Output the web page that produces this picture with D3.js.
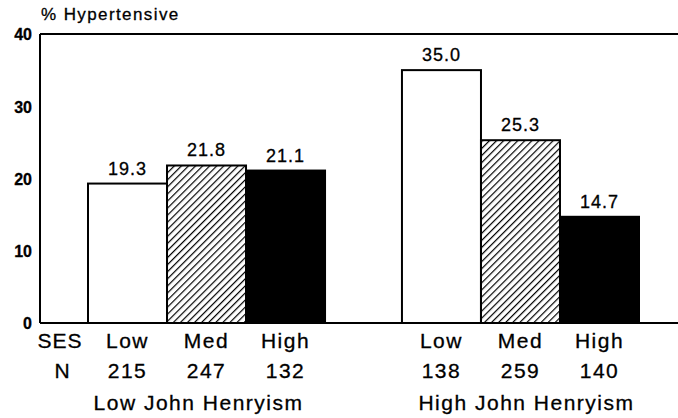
<!DOCTYPE html>
<html>
<head>
<meta charset="utf-8">
<script src="https://cdn.jsdelivr.net/npm/d3@7"></script>
<style>
  body { margin: 0; background: #fff; }
  text { font-family: "Liberation Sans", Arial, Helvetica, sans-serif; fill: #000; stroke: #000; stroke-width: 0.3px; }
</style>
</head>
<body>
<div id="chart"></div>
<script>
// data
var groups = ["Low John Henryism", "High John Henryism"];
var ses = ["Low", "Med", "High"];
var lowJH = [19.3, 21.8, 21.1];
var highJH = [35.0, 25.3, 14.7];
var lowN = [215, 247, 132];
var highN = [138, 259, 140];
var yTicks = [0, 10, 20, 30, 40];

var width = 678,
    height = 418;

var svg = d3.select("#chart")
  .append("svg")
  .attr("width", width)
  .attr("height", height);

// hatch pattern for the medium SES bars
var defs = svg.append("defs");
defs.append("pattern")
  .attr("id", "hatch")
  .attr("patternUnits", "userSpaceOnUse")
  .attr("width", 5)
  .attr("height", 5)
  .attr("patternTransform", "rotate(45)")
  .append("line")
  .attr("x1", 0).attr("y1", 0)
  .attr("x2", 0).attr("y2", 5)
  .attr("stroke", "#000")
  .attr("stroke-width", 2.4);

var fills = ["#fff", "url(#hatch)", "#000"];

// build rows from the arrays
var rows = [];
groups.forEach(function(g, gi) {
  var vals = gi == 0 ? lowJH : highJH;
  var ns = gi == 0 ? lowN : highN;
  ses.forEach(function(s, si) {
    rows.push({ group: g, ses: s, value: vals[si], n: ns[si], i: si });
  });
});

// scales
var y = d3.scaleLinear().domain([0, 40]).range([323, 34]);
var x0 = d3.scaleBand().domain(groups).range([88, 639]).paddingInner(0.245).paddingOuter(0);
var x1 = d3.scaleBand().domain(ses).range([0, x0.bandwidth()]).padding(0);

// y axis, labels only
var yAxis = svg.append("g")
  .attr("transform", "translate(40,0)")
  .call(d3.axisLeft(y).tickValues(yTicks).tickSize(0).tickPadding(8));
yAxis.select(".domain").remove();
yAxis.selectAll("text")
  .style("font-family", "'Liberation Sans', Arial, sans-serif")
  .style("font-size", "16px")
  .style("font-weight", "bold")
  .attr("dy", "0.36em");

// frame lines: left, top, bottom
svg.append("line").attr("x1", 40).attr("x2", 40).attr("y1", y(40)).attr("y2", y(0))
  .attr("stroke", "#000").attr("stroke-width", 2);
svg.append("line").attr("x1", 40).attr("x2", width).attr("y1", y(40)).attr("y2", y(40))
  .attr("stroke", "#000").attr("stroke-width", 2);

// bars
svg.selectAll(".bar")
  .data(rows)
  .enter().append("rect")
  .attr("class", "bar")
  .attr("x", function(d) { return x0(d.group) + x1(d.ses); })
  .attr("y", function(d) { return y(d.value); })
  .attr("width", x1.bandwidth())
  .attr("height", function(d) { return y(0) - y(d.value); })
  .attr("fill", function(d) { return fills[d.i]; })
  .attr("stroke", "#000")
  .attr("stroke-width", 2);

svg.append("line").attr("x1", 40).attr("x2", width).attr("y1", y(0)).attr("y2", y(0))
  .attr("stroke", "#000").attr("stroke-width", 2);

// value labels
svg.selectAll(".val")
  .data(rows)
  .enter().append("text")
  .attr("class", "val")
  .attr("x", function(d) { return x0(d.group) + x1(d.ses) + x1.bandwidth() / 2; })
  .attr("y", function(d) { return y(d.value) - 9; })
  .attr("text-anchor", "middle")
  .style("font-size", "18px")
  .style("letter-spacing", "1px")
  .text(function(d) { return d.value.toFixed(1); });

// SES and N rows
svg.selectAll(".ses")
  .data(rows)
  .enter().append("text")
  .attr("class", "ses")
  .attr("x", function(d) { return x0(d.group) + x1(d.ses) + x1.bandwidth() / 2; })
  .attr("y", 348)
  .attr("text-anchor", "middle")
  .style("font-size", "21px")
  .style("letter-spacing", "1.5px")
  .text(function(d) { return d.ses; });

svg.selectAll(".n")
  .data(rows)
  .enter().append("text")
  .attr("class", "n")
  .attr("x", function(d) { return x0(d.group) + x1(d.ses) + x1.bandwidth() / 2; })
  .attr("y", 378)
  .attr("text-anchor", "middle")
  .style("font-size", "21px")
  .style("letter-spacing", "1.5px")
  .text(function(d) { return d.n; });

svg.append("text").attr("x", 60).attr("y", 348).attr("text-anchor", "middle")
  .style("font-size", "21px").style("letter-spacing", "1px").text("SES");
svg.append("text").attr("x", 62).attr("y", 378).attr("text-anchor", "middle")
  .style("font-size", "21px").text("N");

// group labels
svg.selectAll(".grp")
  .data(groups)
  .enter().append("text")
  .attr("class", "grp")
  .attr("x", function(d) { return x0(d) + x0.bandwidth() / 2; })
  .attr("dx", function(d, i) { return i == 0 ? -8 : 6; })
  .attr("y", 410)
  .attr("text-anchor", "middle")
  .style("font-size", "21px")
  .style("letter-spacing", "1.5px")
  .text(function(d) { return d; });

// y axis title
svg.append("text")
  .attr("x", 41)
  .attr("y", 20)
  .style("font-size", "17px")
  .style("letter-spacing", "1.4px")
  .text("% Hypertensive");
</script>
</body>
</html>
